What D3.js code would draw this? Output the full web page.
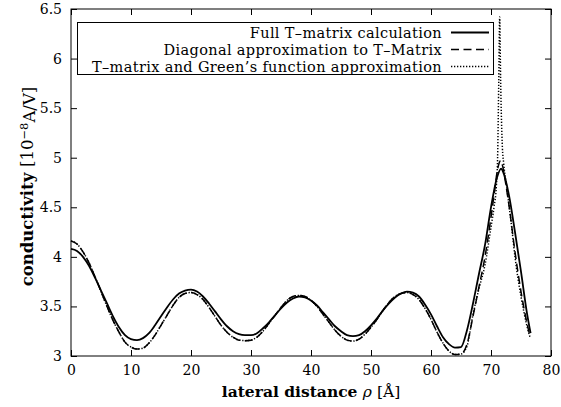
<!DOCTYPE html>
<html>
<head>
<meta charset="utf-8">
<script src="https://cdn.jsdelivr.net/npm/d3@7/dist/d3.min.js"></script>
<style>
body { margin: 0; background: #fff; }
text { font-family: "DejaVu Serif", "Liberation Serif", serif; fill: #000; }
</style>
</head>
<body>
<svg id="chart"></svg>
<script>
var viewWidth = 561;
var viewHeight = 407;

var margin = {top: 9, right: 10, bottom: 51, left: 71};
var width = viewWidth - margin.left - margin.right;
var height = viewHeight - margin.top - margin.bottom;

// data (lateral distance in Angstrom, conductivity in 1e-8 A/V)
var fullX = [0,1,2,3,4,5,6,7,8,9,10,11,12,13,14,15,16,17,18,19,20,21,22,23,24,25,26,27,28,29,30,
  31,32,33,34,35,36,37,38,39,40,41,42,43,44,45,46,47,48,49,50,51,52,53,54,55,56,57,58,59,60,
  61,62,63,64,65,66,67,68,69,70,71,71.7,72,73,74,75,76,76.6];
var fullY = [4.08,4.06,4.00,3.91,3.79,3.66,3.53,3.40,3.29,3.21,3.17,3.16,3.18,3.23,3.31,3.40,3.49,3.57,3.63,3.66,3.67,
  3.65,3.60,3.53,3.45,3.37,3.30,3.25,3.22,3.21,3.21,
  3.23,3.28,3.34,3.41,3.48,3.54,3.58,3.60,3.59,3.56,
  3.51,3.44,3.37,3.30,3.25,3.21,3.20,3.21,3.25,3.31,
  3.38,3.46,3.53,3.59,3.63,3.65,3.64,3.60,3.52,3.42,
  3.30,3.19,3.12,3.085,3.09,3.26,3.53,3.83,4.12,4.50,4.80,4.89,4.86,4.62,4.25,3.85,3.43,3.23];

var diagX = [0,1,2,3,4,5,6,7,8,9,10,11,12,13,14,15,16,17,18,19,20,21,22,23,24,25,26,27,28,29,30,
  31,32,33,34,35,36,37,38,39,40,41,42,43,44,45,46,47,48,49,50,51,52,53,54,55,56,57,58,59,60,
  61,62,63,64,65,66,67,68,69,70,70.5,71,71.6,72,72.5,73,74,75,76,76.5];
var diagY = [4.16,4.13,4.05,3.94,3.80,3.65,3.50,3.36,3.24,3.14,3.09,3.07,3.08,3.13,3.21,3.31,3.41,3.51,3.59,3.63,3.64,
  3.62,3.57,3.49,3.40,3.31,3.24,3.19,3.16,3.155,3.16,
  3.19,3.25,3.33,3.41,3.49,3.56,3.60,3.61,3.60,3.56,
  3.50,3.42,3.34,3.26,3.20,3.16,3.15,3.17,3.22,3.29,
  3.37,3.46,3.54,3.60,3.63,3.64,3.62,3.57,3.48,3.37,
  3.24,3.13,3.05,3.015,3.02,3.12,3.40,3.70,4.00,4.40,4.62,4.85,4.97,4.90,4.72,4.52,4.05,3.65,3.33,3.20];

var greenX = [0,1,2,3,4,5,6,7,8,9,10,11,12,13,14,15,16,17,18,19,20,21,22,23,24,25,26,27,28,29,30,
  31,32,33,34,35,36,37,38,39,40,41,42,43,44,45,46,47,48,49,50,51,52,53,54,55,56,57,58,59,60,
  61,62,63,64,65,66,67,68,69,70,70.5,70.9,71.1,71.3,71.45,71.6,71.9,72.1,72.6,73,73.5,74,74.5,75,75.5,76,76.5];
var greenY = [4.16,4.13,4.05,3.94,3.80,3.65,3.50,3.36,3.24,3.14,3.09,3.07,3.08,3.13,3.21,3.31,3.41,3.51,3.59,3.63,3.64,
  3.62,3.57,3.49,3.40,3.31,3.24,3.19,3.16,3.155,3.16,
  3.19,3.25,3.33,3.41,3.49,3.56,3.60,3.61,3.60,3.56,
  3.50,3.42,3.34,3.26,3.20,3.16,3.15,3.17,3.22,3.29,
  3.37,3.46,3.54,3.60,3.63,3.64,3.62,3.57,3.48,3.37,
  3.24,3.13,3.05,3.015,3.02,3.10,3.42,3.68,3.92,4.30,4.50,4.72,5.00,5.80,6.42,5.80,5.10,4.95,4.71,4.52,4.27,4.00,3.78,3.60,3.44,3.30,3.19];

var xTicks = [0,10,20,30,40,50,60,70,80];
var yTicks = [3,3.5,4,4.5,5,5.5,6,6.5];

var series = [
  {name: "Full T\u2013matrix calculation", xs: fullX, ys: fullY, dash: null, w: 1.8},
  {name: "Diagonal approximation to T\u2013Matrix", xs: diagX, ys: diagY, dash: "8,4.5", w: 1.5},
  {name: "T\u2013matrix and Green\u2019s function approximation", xs: greenX, ys: greenY, dash: "1.3,1.7", w: 1.5}
];

var svg = d3.select("#chart")
    .attr("width", viewWidth)
    .attr("height", viewHeight);

var g = svg.append("g")
    .attr("transform", "translate(" + margin.left + "," + margin.top + ")");

var x = d3.scaleLinear().domain([0, 80]).range([0, width]);
var y = d3.scaleLinear().domain([3, 6.5]).range([height, 0]);

var fmt = function(d) { return d3.format("")(d); };

// axes with inward ticks, mirrored on top/right like gnuplot
g.append("g")
    .attr("class", "x axis")
    .attr("transform", "translate(0," + height + ")")
    .call(d3.axisBottom(x).tickValues(xTicks).tickFormat(fmt).tickSizeInner(-6).tickSizeOuter(0).tickPadding(9));
g.append("g")
    .attr("class", "x axis top")
    .call(d3.axisTop(x).tickValues(xTicks).tickFormat("").tickSizeInner(-6).tickSizeOuter(0));
g.append("g")
    .attr("class", "y axis")
    .call(d3.axisLeft(y).tickValues(yTicks).tickFormat(fmt).tickSizeInner(-6).tickSizeOuter(0).tickPadding(9));
g.append("g")
    .attr("class", "y axis right")
    .attr("transform", "translate(" + width + ",0)")
    .call(d3.axisRight(y).tickValues(yTicks).tickFormat("").tickSizeInner(-6).tickSizeOuter(0));

g.selectAll(".axis .domain").remove();
g.selectAll(".axis line").attr("stroke", "#000");
g.selectAll(".axis text")
    .style("font-size", "14px")
    .style("font-family", "'DejaVu Serif', serif")
    .attr("fill", "#000");

g.append("rect")
    .attr("width", width)
    .attr("height", height)
    .attr("fill", "none")
    .attr("stroke", "#000")
    .attr("stroke-width", 1);

// curves
var line = d3.line()
    .x(function(d) { return x(d[0]); })
    .y(function(d) { return y(d[1]); })
    .curve(d3.curveMonotoneX);

series.forEach(function(s) {
  var pts = s.xs.map(function(v, i) { return [v, s.ys[i]]; });
  g.append("path")
      .datum(pts)
      .attr("fill", "none")
      .attr("stroke", "#000")
      .attr("stroke-width", s.w)
      .attr("stroke-dasharray", s.dash)
      .attr("d", line);
});

// legend
var legend = svg.append("g").attr("class", "legend");
legend.append("rect")
    .attr("x", 77.5).attr("y", 22.5)
    .attr("width", 416).attr("height", 52)
    .attr("fill", "#fff")
    .attr("stroke", "#000");

series.forEach(function(s, i) {
  var yy = 32.5 + i * 17;
  legend.append("text")
      .attr("x", 442)
      .attr("y", yy)
      .attr("dy", "0.35em")
      .attr("text-anchor", "end")
      .style("font-size", "14.5px")
      .style("letter-spacing", "0.35px")
      .text(s.name);
  legend.append("line")
      .attr("x1", 451).attr("x2", 489)
      .attr("y1", yy).attr("y2", yy)
      .attr("stroke", "#000")
      .attr("stroke-width", s.w)
      .attr("stroke-dasharray", s.dash);
});

// axis titles
var xt = svg.append("text")
    .attr("x", margin.left + width / 2)
    .attr("y", 397)
    .attr("text-anchor", "middle")
    .style("font-size", "15.5px");
xt.append("tspan").style("font-weight", "bold").text("lateral distance ");
xt.append("tspan").style("font-style", "italic").text("\u03c1");
xt.append("tspan").text(" [\u00c5]");

var yt = svg.append("text")
    .attr("transform", "translate(33," + (margin.top + height / 2 + 4) + ") rotate(-90)")
    .attr("text-anchor", "middle")
    .style("font-size", "16.5px");
yt.append("tspan").style("font-weight", "bold").text("conductivity ");
yt.append("tspan").text("[10");
yt.append("tspan").attr("dy", "-0.45em").style("font-size", "11.5px").text("\u22128");
yt.append("tspan").attr("dy", "0.45em").text("A/V]");
</script>
</body>
</html>
